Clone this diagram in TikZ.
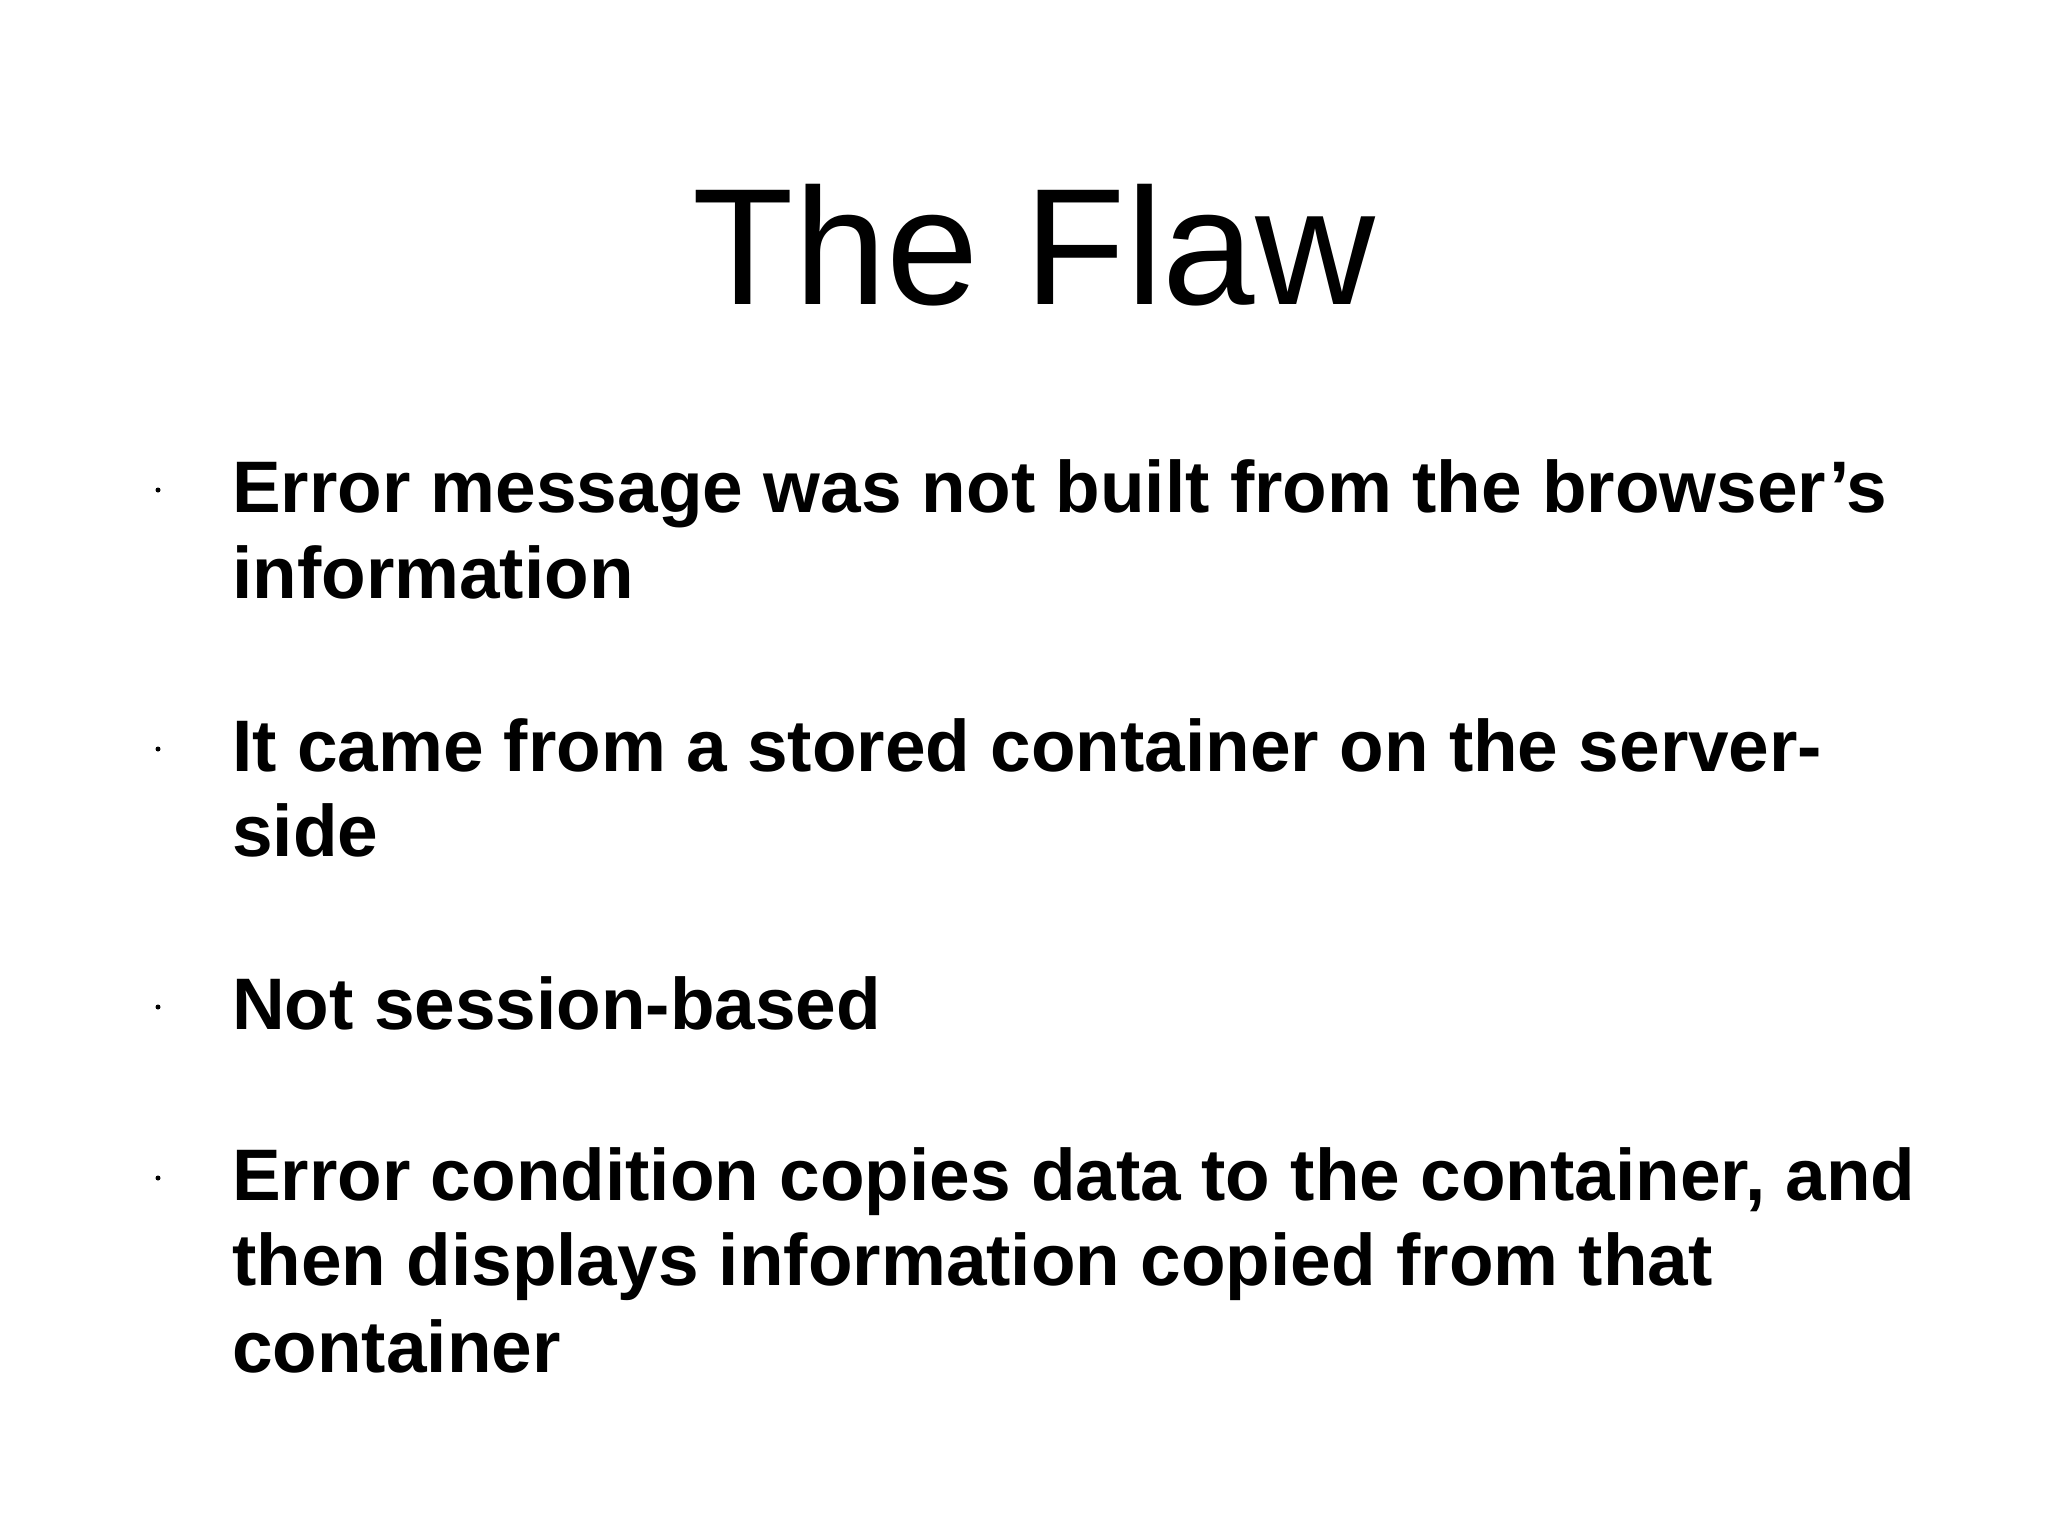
\documentclass[tikz,border=0pt]{standalone}
\usepackage{fontspec}
\setmainfont{Liberation Sans}
\begin{document}
\begin{tikzpicture}[x=1pt,y=-1pt,
  line/.style={anchor=base west,inner sep=0pt,font=\fontsize{73}{86}\selectfont\bfseries},
  dot/.style={circle,fill=black,inner sep=0pt,minimum size=5pt}]
\useasboundingbox (0,0) rectangle (2048,1536);
\node[anchor=base,inner sep=0pt,font=\fontsize{166}{190}\selectfont] (title) at (1034,304) {The Flaw};
\node[line] (l1) at (232,512) {Error message was not built from the browser's};
\node[line] (l2) at (232,598) {information};
\node[line] (l3) at (232,771) {It came from a stored container on the server-};
\node[line] (l4) at (232,856) {side};
\node[line] (l5) at (232,1029) {Not session-based};
\node[line] (l6) at (232,1200) {Error condition copies data to the container, and};
\node[line] (l7) at (232,1285) {then displays information copied from that};
\node[line] (l8) at (232,1372) {container};
\node[dot] (b1) at (158,490) {};
\node[dot] (b2) at (158,749) {};
\node[dot] (b3) at (158,1007) {};
\node[dot] (b4) at (158,1178) {};
\end{tikzpicture}
\end{document}
